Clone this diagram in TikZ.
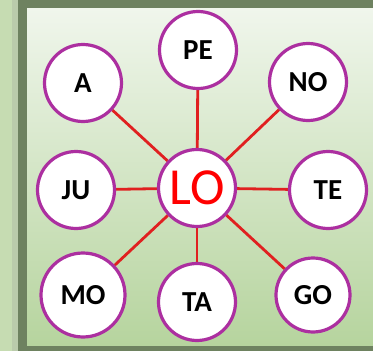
\documentclass[tikz,border=0pt]{standalone}
\usepackage{fontspec}
\setmainfont{Carlito}
\usetikzlibrary{backgrounds}
\definecolor{bgout}{HTML}{C6DCB2}
\definecolor{frame}{HTML}{6E8260}
\definecolor{paneltop}{HTML}{F0F6EC}
\definecolor{panelbot}{HTML}{B6D49E}
\definecolor{ring}{HTML}{AC2FA0}
\definecolor{spoke}{HTML}{E02020}
\tikzset{
  bubble/.style={circle, draw=ring, line width=3.2pt, fill=white, inner sep=0pt, minimum size=77pt, font=\fontsize{29}{29}\selectfont\bfseries},
  spokeline/.style={draw=spoke, line width=2.8pt}
}
\begin{document}
\begin{tikzpicture}[x=1pt,y=-1pt]
\useasboundingbox (0,0) rectangle (373,351);
\node[bubble] (PE) at (198,50) {PE};
\node[bubble] (A) at (83,83) {A};
\node[bubble] (NO) at (308,82) {NO};
\node[bubble] (JU) at (76,190) {JU};
\node[bubble] (TE) at (328,190) {TE};
\node[bubble, minimum size=84pt] (MO) at (83,295) {MO};
\node[bubble] (TA) at (197,302) {TA};
\node[bubble, minimum size=74pt] (GO) at (313,295) {GO};
\node[bubble, text=red, font=\fontsize{52}{52}\selectfont] (LO) at (197,188) {LO};
\begin{pgfonlayer}{background}
\fill[bgout] (0,0) rectangle (373,351);
\fill[black!40,opacity=0.25] (12,0) rectangle (18,351);
\fill[frame] (18,0) rectangle (373,351);
\shade[top color=paneltop, bottom color=panelbot] (27,8) rectangle (373,345);
\foreach \n in {PE,A,NO,JU,TE,MO,TA,GO}
  \draw[spokeline] (LO) -- (\n);
\end{pgfonlayer}
\end{tikzpicture}
\end{document}
